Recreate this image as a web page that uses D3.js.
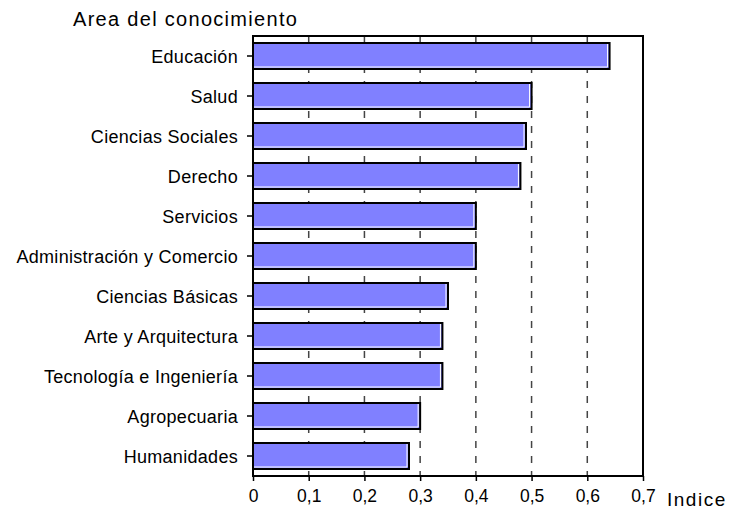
<!DOCTYPE html>
<html>
<head>
<meta charset="utf-8">
<script src="https://cdn.jsdelivr.net/npm/d3@7"></script>
<style>
  body { margin: 0; background: #fff; }
  text { font-family: "Liberation Sans", Arial, sans-serif; fill: #000; }
</style>
</head>
<body>
<div class="chart"></div>
<script>
var areas = ["Educación", "Salud", "Ciencias Sociales", "Derecho", "Servicios",
    "Administración y Comercio", "Ciencias Básicas", "Arte y Arquitectura",
    "Tecnología e Ingeniería", "Agropecuaria", "Humanidades"];
var indice = [0.64, 0.50, 0.49, 0.48, 0.40, 0.40, 0.35, 0.34, 0.34, 0.30, 0.28];
var xTicks = [0, 0.1, 0.2, 0.3, 0.4, 0.5, 0.6, 0.7];

var width = 729, height = 511
    , margin = { top: 36, right: 86, bottom: 35, left: 253 }
    , w = width - margin.left - margin.right
    , h = height - margin.top - margin.bottom;

var svg = d3.select(".chart").append("svg")
    .attr("width", width)
    .attr("height", height);

const g = svg.append("g")
    .attr("transform", `translate(${margin.left},${margin.top})`);

var x = d3.scaleLinear().domain([0, 0.7]).range([0, w]);
var y = d3.scaleBand().domain(areas).range([0, h])
    .paddingInner(0.35).paddingOuter(0.175);

// dashed grid
g.append("g").selectAll("line")
    .data(xTicks.slice(1, -1))
    .enter().append("line")
    .attr("x1", d => x(d)).attr("x2", d => x(d))
    .attr("y1", 0).attr("y2", h)
    .attr("stroke", "#444")
    .attr("stroke-width", 1.5)
    .attr("stroke-dasharray", "7,8");

// bars
const bars = g.append("g").selectAll("g")
    .data(areas)
    .enter().append("g");

bars.append("rect")
    .attr("x", 0)
    .attr("y", d => y(d))
    .attr("width", (d, i) => x(indice[i]))
    .attr("height", y.bandwidth())
    .attr("fill", "#8080ff")
    .attr("stroke", "#000")
    .attr("stroke-width", 2);

bars.append("path")
    .attr("d", (d, i) => {
        var x1 = x(indice[i]) - 2, y0 = y(d) + 1, y1 = y(d) + y.bandwidth() - 2;
        return `M1,${y1}H${x1}V${y0}`;
    })
    .attr("fill", "none")
    .attr("stroke", "#fff")
    .attr("stroke-width", 1);

// frame
g.append("rect")
    .attr("width", w).attr("height", h)
    .attr("fill", "none")
    .attr("stroke", "#000")
    .attr("stroke-width", 2);

// x axis
const xAxis = g.append("g")
    .attr("transform", `translate(0,${h})`)
    .call(d3.axisBottom(x).tickValues(xTicks).tickSize(5).tickPadding(9)
        .tickFormat(d => d3.format(".1f")(d).replace(".", ",").replace("0,0", "0")));
xAxis.select(".domain").remove();
xAxis.selectAll("line").attr("stroke", "#000").attr("stroke-width", 1.5);
xAxis.selectAll("text")
    .style("font-size", "17.5px");

// y axis
const yAxis = g.append("g")
    .call(d3.axisLeft(y).tickSize(6).tickPadding(9));
yAxis.select(".domain").remove();
yAxis.selectAll("line").attr("stroke", "#000").attr("stroke-width", 1.5);
yAxis.selectAll("text")
    .attr("dy", "0.38em")
    .style("font-size", "18px")
    .style("letter-spacing", "0.3px");

svg.append("text")
    .attr("x", 73).attr("y", 26)
    .style("font-size", "20px")
    .style("letter-spacing", "1.3px")
    .text("Area del conocimiento");

svg.append("text")
    .attr("x", 667).attr("y", 506)
    .style("font-size", "19px")
    .style("letter-spacing", "1.5px")
    .text("Indice");
</script>
</body>
</html>
